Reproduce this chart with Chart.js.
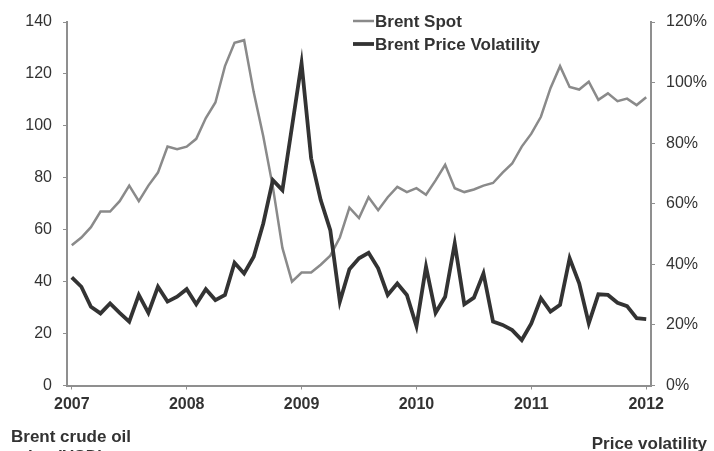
<!DOCTYPE html>
<html>
<head>
<meta charset="utf-8">
<script src="https://cdn.jsdelivr.net/npm/chart.js@4"></script>
<style>
html,body{margin:0;padding:0;background:#fff;}
#wrap{position:relative;width:714px;height:451px;}
canvas{display:block;}
</style>
</head>
<body>
<div id="wrap"><canvas id="c" width="714" height="451"></canvas></div>
<script>
// ---- data (monthly, Jan 2007 – Jan 2012) ----
const years = ['2007','2008','2009','2010','2011','2012'];
const monthNames = ['01','02','03','04','05','06','07','08','09','10','11','12'];
const categories = [];
for (const y of years) { for (const m of monthNames) { categories.push(y + '-' + m); if (y === '2012') break; } }

const brentSpot = [54, 57, 61, 67, 67, 71, 77, 71, 77, 82,
  92, 91, 92, 95, 103, 109, 123, 132, 133, 113,
  96, 76.5, 53, 40, 43.5, 43.5, 46.5, 50, 57, 68.5,
  64.5, 72.5, 67.5, 72.5, 76.5, 74.5, 76, 73.5, 79, 85,
  76, 74.5, 75.5, 77, 78, 82, 85.5, 92, 97, 103.5,
  114.5, 123, 115, 114, 117, 110, 112.5, 109.5, 110.5, 108,
  111];

const brentVolatility = [35.7, 32.6, 26, 23.8, 27.1, 24, 21.1, 29.9, 24, 32.6,
  27.7, 29.3, 31.8, 26.8, 31.8, 28.2, 29.9, 40.5, 37, 42.5,
  53.5, 67.8, 64.5, 85.4, 106.4, 75, 61.2, 51.3, 27.7, 38.4,
  42, 43.8, 38.7, 29.9, 33.7, 29.9, 19.6, 39.2, 24, 29.3,
  46.9, 26.8, 29, 37, 21.1, 20, 18.3, 15, 20.5, 28.8,
  24.4, 26.6, 42, 33.7, 20.5, 30.1, 29.9, 27.3, 26.2, 22.2,
  21.9];

const seriesLabels = ['Brent Spot', 'Brent Price Volatility'];
const leftTitle = ['Brent crude oil', 'price (USD)'];
const rightTitle = 'Price volatility';

// ---- styling ----
const FONT = '"Liberation Sans", Arial, Helvetica, sans-serif';
const TXT = '#333333';
const AXIS = '#8f8f8f';

const overlay = {
  id: 'overlay',
  afterDraw(chart) {
    const ctx = chart.ctx;
    ctx.save();
    // legend
    const lx = 353, rowsY = [21, 44];
    const dsOrder = [0, 1];
    dsOrder.forEach((di, r) => {
      const ds = chart.data.datasets[di];
      ctx.strokeStyle = ds.borderColor;
      ctx.lineWidth = ds.borderWidth;
      ctx.lineCap = 'butt';
      ctx.beginPath();
      ctx.moveTo(lx, rowsY[r]);
      ctx.lineTo(lx + 21, rowsY[r]);
      ctx.stroke();
      ctx.fillStyle = TXT;
      ctx.font = 'bold 17px ' + FONT;
      ctx.textBaseline = 'alphabetic';
      ctx.textAlign = 'left';
      ctx.fillText(ds.label, lx + 22, rowsY[r] + 6);
    });
    // axis titles under the chart
    ctx.font = 'bold 17px ' + FONT;
    ctx.fillStyle = TXT;
    ctx.textAlign = 'left';
    ctx.fillText(leftTitle[0], 11, 442);
    ctx.fillText(leftTitle[1], 11, 462);
    ctx.textAlign = 'right';
    ctx.fillText(rightTitle, 707, 449);
    ctx.restore();
  }
};

new Chart(document.getElementById('c'), {
  type: 'line',
  data: {
    labels: categories,
    datasets: [
      { label: seriesLabels[0], data: brentSpot, yAxisID: 'y', borderColor: '#8a8a8a', borderWidth: 2.5,
        pointRadius: 0, tension: 0, order: 1, fill: false },
      { label: seriesLabels[1], data: brentVolatility, yAxisID: 'y1', borderColor: '#333333', borderWidth: 3.8,
        pointRadius: 0, tension: 0, order: 0, fill: false }
    ]
  },
  options: {
    responsive: false,
    animation: false,
    devicePixelRatio: 1,
    layout: { padding: { top: 22, left: 0, right: 0, bottom: 0 } },
    plugins: { legend: { display: false }, tooltip: { enabled: false } },
    scales: {
      x: {
        type: 'category',
        offset: true,
        grid: { display: true, drawOnChartArea: false, drawTicks: true, tickLength: 4, color: AXIS, offset: false },
        border: { display: true, color: AXIS, width: 2 },
        ticks: {
          autoSkip: false, maxRotation: 0, minRotation: 0, padding: 5,
          color: TXT, font: { family: FONT, size: 16, weight: 'bold' },
          callback: function (v, i) { return i % 12 === 0 ? years[i / 12] : null; }
        },
        afterFit: (s) => { s.height = 65.5; }
      },
      y: {
        position: 'left', min: 0, max: 140,
        grid: { display: true, drawOnChartArea: false, drawTicks: true, tickLength: 4, color: AXIS },
        border: { display: true, color: AXIS, width: 2 },
        ticks: { stepSize: 20, padding: 11, color: TXT, font: { family: FONT, size: 16 } },
        afterFit: (s) => { s.width = 67; }
      },
      y1: {
        position: 'right', min: 0, max: 120,
        grid: { display: true, drawOnChartArea: false, drawTicks: true, tickLength: 4, color: AXIS },
        border: { display: true, color: AXIS, width: 2 },
        ticks: { stepSize: 20, padding: 11, color: TXT, font: { family: FONT, size: 16 },
          callback: (v) => v + '%' },
        afterFit: (s) => { s.width = 63; }
      }
    }
  },
  plugins: [overlay]
});
</script>
</body>
</html>
